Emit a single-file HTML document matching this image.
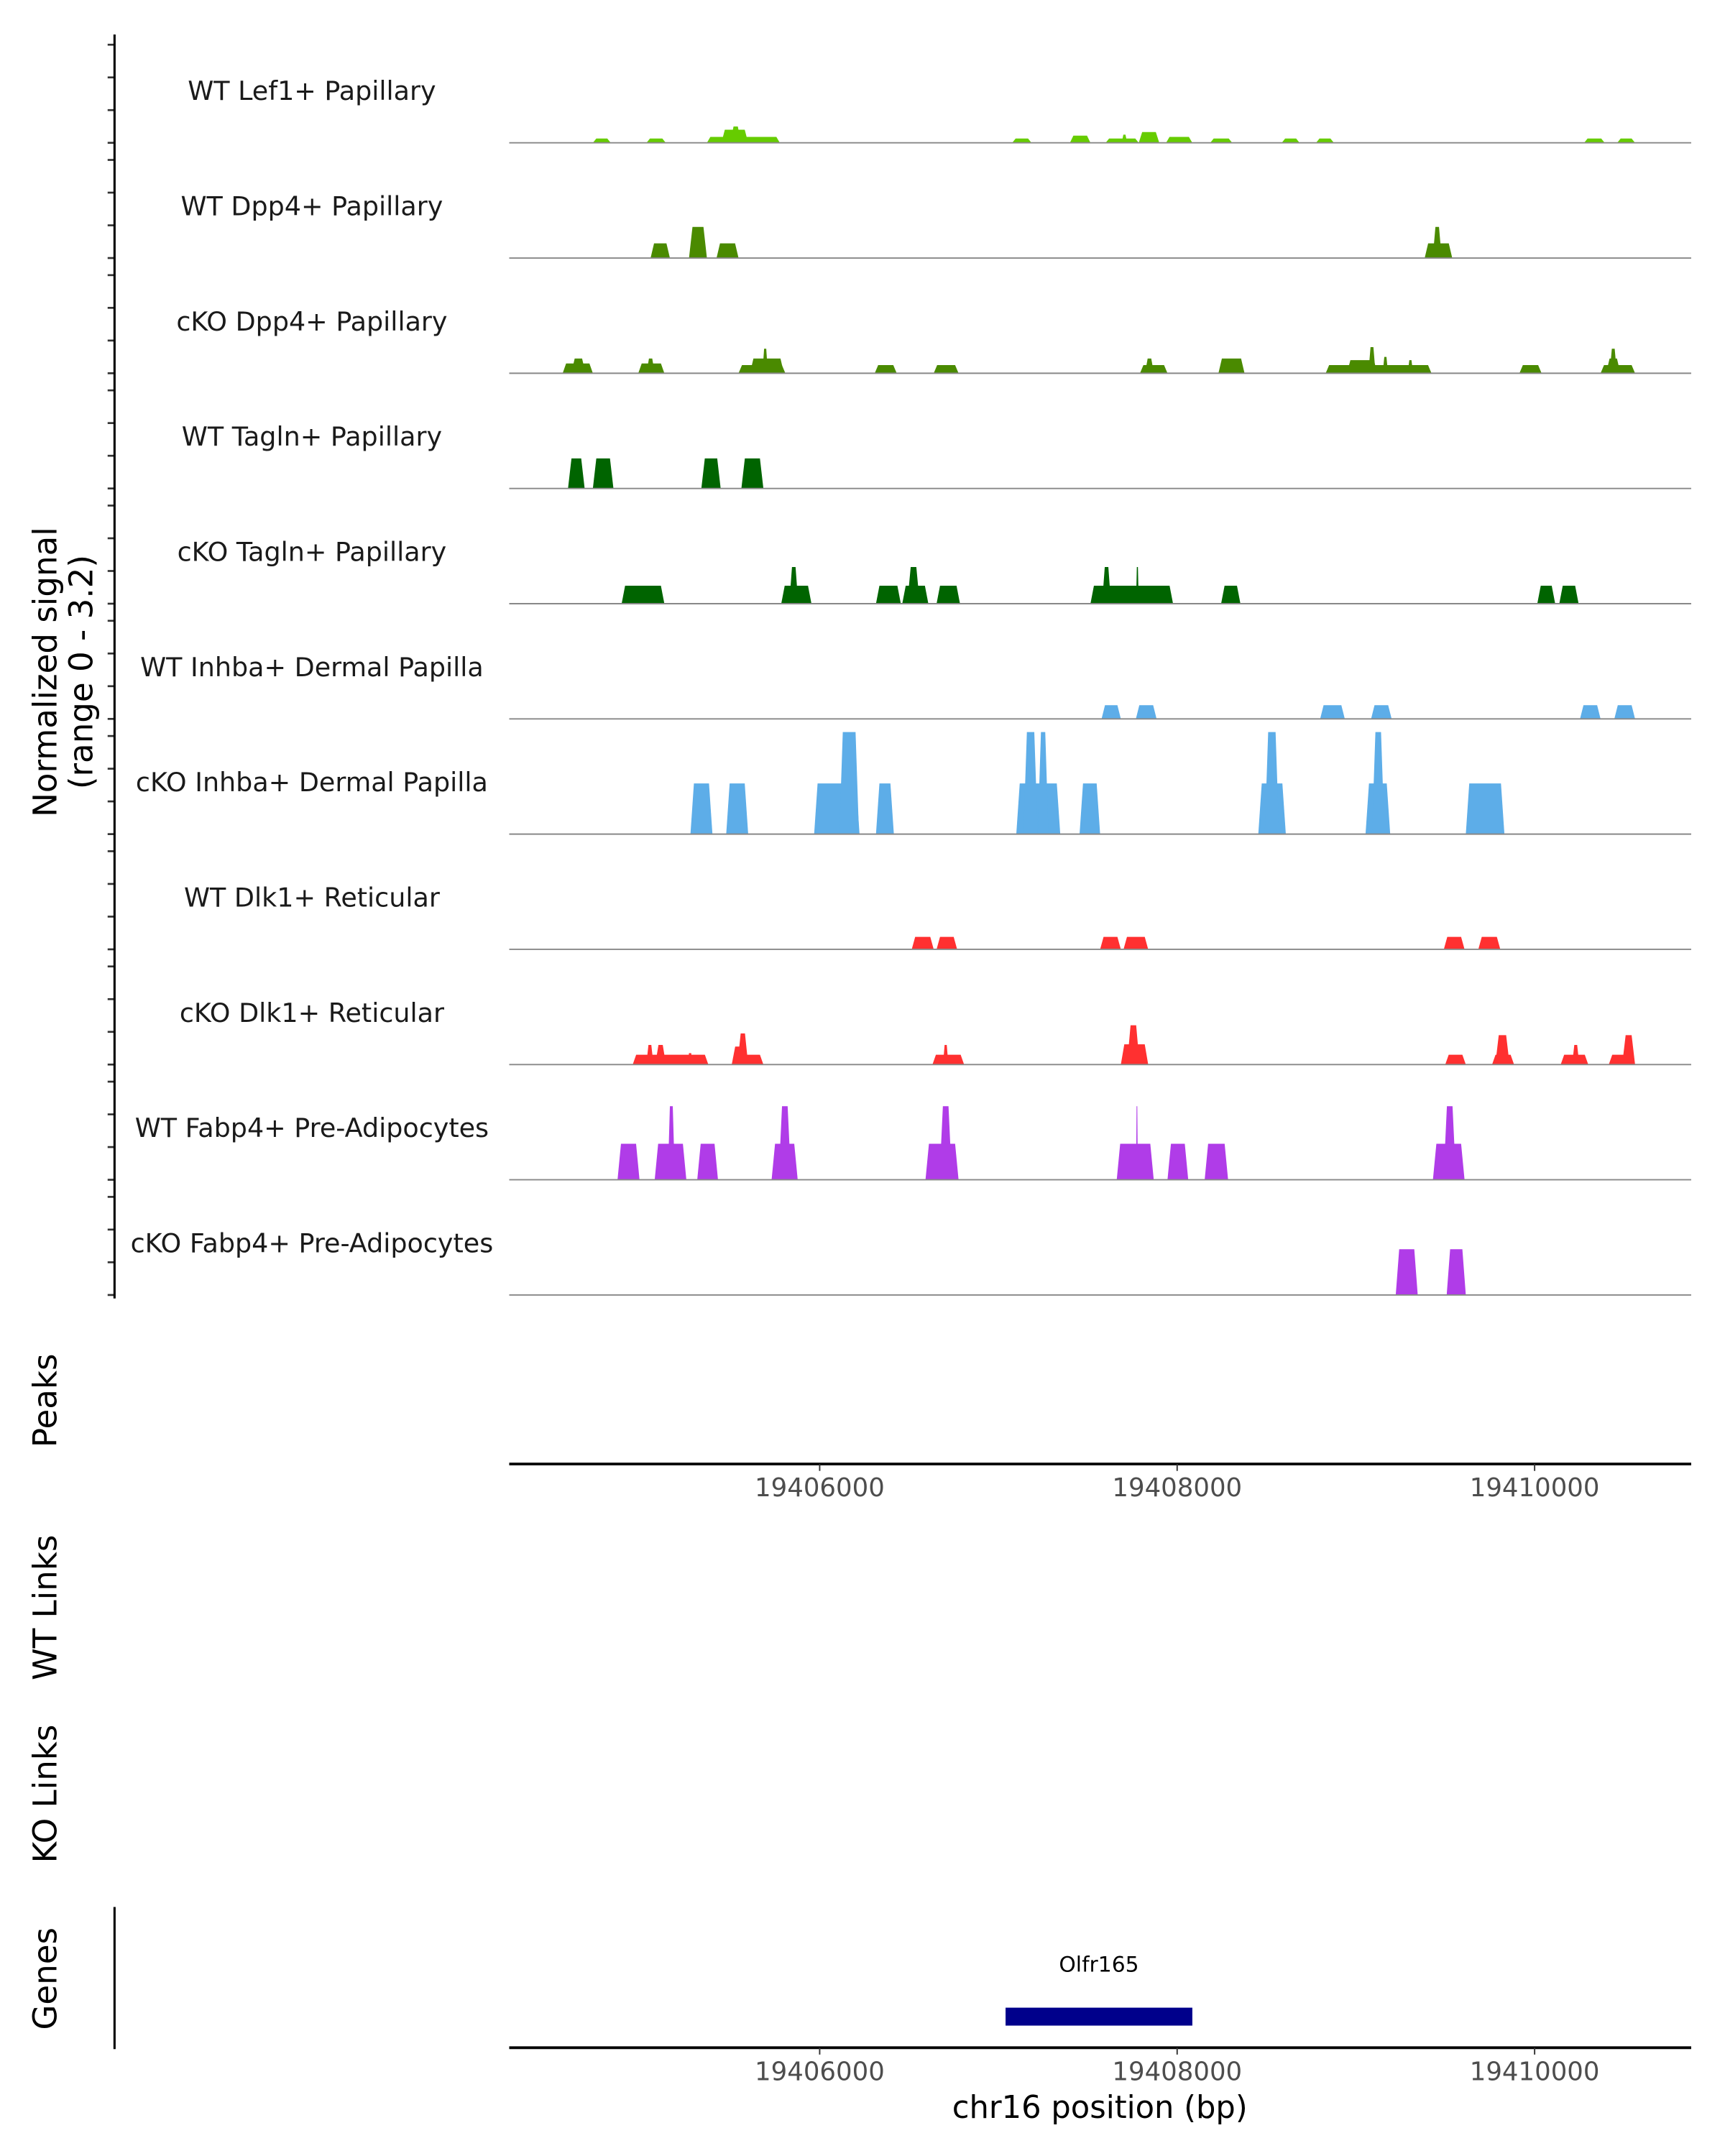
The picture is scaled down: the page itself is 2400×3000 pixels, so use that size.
<!DOCTYPE html>
<html><head><meta charset="utf-8"><style>
html,body{margin:0;padding:0;background:#fff;}
svg{display:block;font-family:"DejaVu Sans","Liberation Sans",sans-serif;}
</style></head><body>
<svg id="chart" xmlns="http://www.w3.org/2000/svg" width="2400" height="3000" viewBox="0 0 1250 1562.5">
<rect x="0" y="0" width="1250" height="1562.5" fill="#fff"/>
<g id="tracks"></g>
<line x1="83" y1="25" x2="83" y2="941" stroke="#000" stroke-width="1.6"/>
<text x="0" y="0" transform="translate(41,487) rotate(-90)" text-anchor="middle" font-size="23.5" fill="#000">Normalized signal</text>
<text x="0" y="0" transform="translate(67,487) rotate(-90)" text-anchor="middle" font-size="23.5" fill="#000">(range 0 - 3.2)</text>
<text transform="translate(41,1015) rotate(-90)" text-anchor="middle" font-size="23.5">Peaks</text>
<text transform="translate(41,1165) rotate(-90)" text-anchor="middle" font-size="23.5">WT Links</text>
<text transform="translate(41,1300) rotate(-90)" text-anchor="middle" font-size="23.5">KO Links</text>
<text transform="translate(41,1434) rotate(-90)" text-anchor="middle" font-size="23.5">Genes</text>
<line x1="83" y1="1382" x2="83" y2="1485" stroke="#000" stroke-width="1.6"/>
<g id="axes"></g>
<text x="797" y="1535" text-anchor="middle" font-size="22.5" fill="#000">chr16 position (bp)</text>
</svg>
<script>
const xMin = 19404263, xMax = 19410876;
const pxL = 369, pxR = 1225.5;
const unitPx = 23.7;
const trackNames = ["WT Lef1+ Papillary","WT Dpp4+ Papillary","cKO Dpp4+ Papillary","WT Tagln+ Papillary","cKO Tagln+ Papillary","WT Inhba+ Dermal Papilla","cKO Inhba+ Dermal Papilla","WT Dlk1+ Reticular","cKO Dlk1+ Reticular","WT Fabp4+ Pre-Adipocytes","cKO Fabp4+ Pre-Adipocytes"];
const trackColors = ["#66cc00","#4a8a00","#4a8a00","#006400","#006400","#5dade8","#5dade8","#ff3030","#ff3030","#b03ce8","#b03ce8"];
// peaks: [start bp, end bp, value]
const peaks0 = [[19404731,19404831,0.13],[19405031,19405139,0.13],[19405369,19405777,0.18],[19405450,19405600,0.4],[19405500,19405560,0.5],[19407077,19407185,0.13],[19407400,19407515,0.22],[19407600,19407785,0.13],[19407690,19407720,0.25],[19407785,19407900,0.33],[19407938,19408085,0.18],[19408185,19408308,0.13],[19408585,19408685,0.13],[19408777,19408877,0.13],[19410277,19410392,0.13],[19410462,19410562,0.13]];
const peaks1 = [[19405054,19405162,0.45],[19405269,19405369,0.95],[19405423,19405546,0.45],[19409385,19409539,0.45],[19409430,19409480,0.95]];
const peaks2 = [[19404562,19404731,0.3],[19404610,19404690,0.45],[19404985,19405131,0.3],[19405031,19405077,0.45],[19405546,19405808,0.25],[19405610,19405800,0.45],[19405680,19405710,0.75],[19406308,19406431,0.25],[19406638,19406777,0.25],[19407792,19407946,0.25],[19407820,19407870,0.45],[19408231,19408377,0.45],[19408831,19409423,0.25],[19408950,19409120,0.4],[19409070,19409110,0.8],[19409150,19409180,0.5],[19409290,19409320,0.4],[19409915,19410039,0.25],[19410369,19410562,0.25],[19410400,19410480,0.45],[19410420,19410460,0.75]];
const peaks3 = [[19404592,19404685,0.92],[19404731,19404846,0.92],[19405338,19405446,0.92],[19405562,19405685,0.92]];
const peaks4 = [[19404892,19405131,0.55],[19405785,19405954,0.55],[19405830,19405880,1.12],[19406315,19406454,0.55],[19406462,19406608,0.55],[19406490,19406560,1.12],[19406654,19406785,0.55],[19407515,19407977,0.55],[19407580,19407630,1.12],[19407770,19407785,1.12],[19408246,19408354,0.55],[19410015,19410115,0.55],[19410138,19410246,0.55]];
const peaks5 = [[19407577,19407685,0.42],[19407769,19407885,0.42],[19408800,19408938,0.42],[19409085,19409200,0.42],[19410254,19410369,0.42],[19410446,19410562,0.42]];
const peaks6 = [[19405277,19405400,1.55],[19405477,19405600,1.55],[19405969,19406223,1.55],[19406110,19406220,3.12],[19406315,19406415,1.55],[19407100,19407346,1.55],[19407140,19407220,3.12],[19407220,19407280,3.12],[19407454,19407569,1.55],[19408454,19408608,1.55],[19408490,19408570,3.12],[19409054,19409192,1.55],[19409090,19409160,3.12],[19409615,19409831,1.55]];
const peaks7 = [[19406515,19406638,0.38],[19406654,19406769,0.38],[19407569,19407685,0.38],[19407700,19407838,0.38],[19409492,19409608,0.38],[19409685,19409808,0.38]];
const peaks8 = [[19404954,19405377,0.3],[19405030,19405070,0.6],[19405080,19405140,0.6],[19405260,19405290,0.35],[19405508,19405685,0.3],[19405508,19405600,0.55],[19405540,19405600,0.95],[19406631,19406808,0.3],[19406690,19406720,0.6],[19407685,19407838,0.62],[19407720,19407790,1.2],[19409500,19409615,0.3],[19409762,19409885,0.3],[19409780,19409860,0.9],[19410146,19410300,0.3],[19410210,19410250,0.6],[19410415,19410562,0.3],[19410490,19410562,0.9]];
const peaks9 = [[19404869,19404992,1.1],[19405077,19405254,1.1],[19405150,19405190,2.25],[19405315,19405431,1.1],[19405731,19405877,1.1],[19405770,19405840,2.25],[19406592,19406777,1.1],[19406670,19406740,2.25],[19407662,19407869,1.1],[19407770,19407780,2.25],[19407946,19408062,1.1],[19408154,19408285,1.1],[19409431,19409608,1.1],[19409490,19409560,2.25]];
const peaks10 = [[19409223,19409346,1.4],[19409508,19409615,1.4]];
const allPeaks = [peaks0,peaks1,peaks2,peaks3,peaks4,peaks5,peaks6,peaks7,peaks8,peaks9,peaks10];
const xTicks = [19406000,19408000,19410000];
const geneStart = 19407040, geneEnd = 19408085;

const NS = "http://www.w3.org/2000/svg";
function xs(bp){ return pxL + (bp - xMin) / (xMax - xMin) * (pxR - pxL); }
function mk(tag, attrs, parent){ const e = document.createElementNS(NS, tag); for (const k in attrs) e.setAttribute(k, attrs[k]); parent.appendChild(e); return e; }
const tracksG = document.getElementById('tracks');
const svg = document.getElementById('chart');
const firstBase = 103.5, trackH = 83.5;
trackNames.forEach((name, i) => {
  const base = firstBase + i * trackH;
  const g = mk('g', {}, tracksG);
  
  
  for (let t = 0; t < 4; t++) {
    const ty = base - t * unitPx;
    const tk = mk('line', {x1:78, x2:83, y1:ty, y2:ty, stroke:'#333', 'stroke-width':1.4}, g);
    
    
  }
  const lbl = mk('text', {x:226, y:base - 31, 'text-anchor':'middle', 'font-size':19, fill:'#1a1a1a'}, g);
  lbl.textContent = name;
  
  
  allPeaks[i].forEach(p => {
    const x0 = xs(p[0]), x1 = xs(p[1]);
    const h = p[2] * unitPx;
    const ins = Math.min(2.5, (x1 - x0) * 0.3);
    const poly = mk('polygon', {points: `${x0},${base} ${x0+ins},${base-h} ${x1-ins},${base-h} ${x1},${base}`, fill: trackColors[i]}, g);
    
    
  });
  const bl = mk('line', {x1:pxL, x2:pxR, y1:base, y2:base, stroke:'#888', 'stroke-width':1}, g);
  
  
});
const axesG = document.getElementById('axes');
[1061, 1484].forEach((ay, j) => {
  const ax = mk('line', {x1:pxL, x2:pxR, y1:ay, y2:ay, stroke:'#000', 'stroke-width':2}, axesG);
  
  
  xTicks.forEach(t => {
    const tx = xs(t);
    const tl = mk('line', {x1:tx, x2:tx, y1:ay, y2:ay+5, stroke:'#333', 'stroke-width':1}, axesG);
    
    
    const tt = mk('text', {x:tx, y:ay+23.5, 'text-anchor':'middle', 'font-size':18.5, fill:'#4d4d4d'}, axesG);
    tt.textContent = t;
    
    
  });
});
const gene = mk('rect', {x:xs(geneStart), y:1455, width:xs(geneEnd)-xs(geneStart), height:13, fill:'#00008b'}, svg);


const gl = mk('text', {x:(xs(geneStart)+xs(geneEnd))/2, y:1429, 'text-anchor':'middle', 'font-size':15.5, fill:'#000'}, svg);
gl.textContent = 'Olfr165';


</script>
</body></html>
